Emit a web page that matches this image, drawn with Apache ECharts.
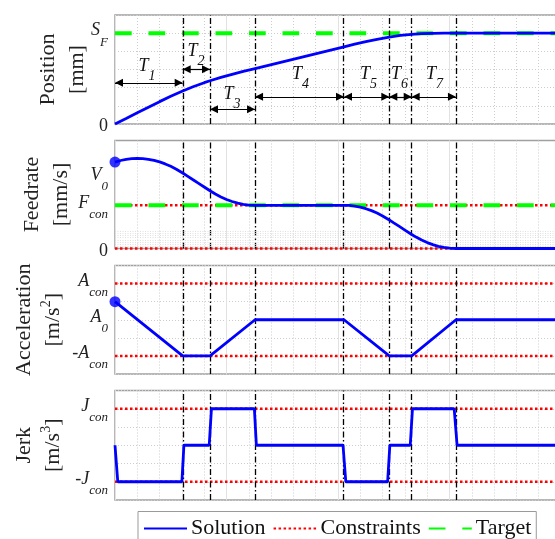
<!DOCTYPE html>
<html><head><meta charset="utf-8">
<script src="https://cdn.jsdelivr.net/npm/echarts@6/dist/echarts.min.js"></script>
<style>html,body{margin:0;padding:0;background:#fff}#c{width:555px;height:539px}</style>
</head><body><div id="c"></div><script>
// ---------- data (normalized units) ----------
const phaseBounds = [0, 0.607, 0.852, 1.256, 2.054, 2.46, 2.661, 3.058];
const phaseNames = ['1', '2', '3', '4', '5', '6', '7'];
const arrowLevels = [2.27, 3.01, 0.81, 1.5, 1.5, 1.5, 1.5];
const labelPosT = [0.255, 0.696, 1.018, 1.632, 2.242, 2.52, 2.834];
const labelPosY = [3.19, 4.02, 1.65, 2.75, 2.75, 2.75, 2.75];

const tPos = [0, 0.1, 0.2, 0.3, 0.4, 0.5, 0.607, 0.7, 0.8, 0.852, 0.95, 1.05, 1.15, 1.256, 2.054, 2.15, 2.25, 2.35, 2.46, 2.56, 2.661, 2.75, 2.85, 2.95, 3.058, 4];
const posVals = [0, 0.304, 0.615, 0.926, 1.231, 1.524, 1.816, 2.048, 2.274, 2.381, 2.566, 2.736, 2.894, 3.054, 4.248, 4.391, 4.534, 4.664, 4.787, 4.873, 4.935, 4.970, 4.991, 4.999, 5, 5];

const tFeed = [0, 0.05, 0.1, 0.15, 0.2, 0.25, 0.3, 0.35, 0.4, 0.45, 0.5, 0.55, 0.607, 0.65, 0.7, 0.75, 0.8, 0.852, 0.9, 0.95, 1.0, 1.05, 1.1, 1.15, 1.2, 1.256, 2.054, 2.1, 2.15, 2.2, 2.25, 2.3, 2.35, 2.4, 2.46, 2.5, 2.55, 2.6, 2.661, 2.7, 2.75, 2.8, 2.85, 2.9, 2.95, 3.0, 3.058, 4];
const feedVals = [2.000, 2.037, 2.063, 2.079, 2.085, 2.080, 2.065, 2.040, 2.004, 1.958, 1.902, 1.835, 1.747, 1.675, 1.591, 1.508, 1.424, 1.337, 1.262, 1.194, 1.135, 1.088, 1.050, 1.023, 1.006, 1.000, 1.000, 0.996, 0.981, 0.956, 0.921, 0.876, 0.820, 0.754, 0.661, 0.594, 0.511, 0.427, 0.325, 0.264, 0.196, 0.137, 0.089, 0.051, 0.024, 0.007, 0, 0];

const tAcc = [0, 0.607, 0.852, 1.256, 2.054, 2.46, 2.661, 3.058, 4];
const accVals = [1, -2, -2, 0, 0, -2, -2, 0, 0];

const tJerk = [0, 0.025, 0.6, 0.618, 0.845, 0.865, 1.25, 1.268, 2.045, 2.07, 2.445, 2.465, 2.648, 2.668, 3.042, 3.068, 4];
const jerkVals = [0, -2, -2, 0, 0, 2, 2, 0, 0, -2, -2, 0, 0, 2, 2, 0, 0];

const V0 = 2.0, A0 = 1.0;
const targetPos = 5, targetFeed = 1;
const feedConstraints = [1, 0];
const accConstraints = [2, -2];
const jerkConstraints = [2, -2];
const feedMinorGrid = [0.05, 0.1, 0.15, 0.2, 0.25, 0.3, 0.35, 0.4];

const posTickValues = [0, 5];
const posTickLabels = ['{n|0}', '{m|S}{s|F}'];
const feedTickValues = [0, 1, 1.64];
const feedTickLabels = ['{n|0}', '{m|F}{s|con}', '{m|V}{s|0}'];
const accTickValues = [-2, 0, 2];
const accTickLabels = ['{m|-A}{s|con}', '{m|A}{s|0}', '{m|A}{s|con}'];
const jerkTickValues = [-2, 2];
const jerkTickLabels = ['{m|-J}{s|con}', '{m|J}{s|con}'];

// ---------- styling ----------
const FF = 'Liberation Serif';
const BLUE = '#0000ff', RED = '#ff0000', GREEN = '#00ff00';
const zip = (a, b) => a.map((x, i) => [x, b[i]]);
const tickRich = {
  n: {fontFamily: FF, fontSize: 18, color: '#222', lineHeight: 18, verticalAlign: 'top', padding: [5, 0, 0, 0]},
  m: {fontFamily: FF, fontSize: 18, fontStyle: 'italic', color: '#222', lineHeight: 18, verticalAlign: 'top'},
  s: {fontFamily: FF, fontSize: 13, fontStyle: 'italic', color: '#222', lineHeight: 13, verticalAlign: 'top', padding: [14, 0, 0, 0]}
};
const nameStyle = {fontFamily: FF, fontSize: 22, color: '#222', lineHeight: 29,
  rich: {sup: {fontFamily: FF, fontSize: 14, color: '#222', lineHeight: 14, verticalAlign: 'top'}}};

const grids = [
  {left: 115, width: 446, top: 15, height: 109},
  {left: 115, width: 446, top: 140.5, height: 108},
  {left: 115, width: 446, top: 265.5, height: 108.5},
  {left: 115, width: 446, top: 390.5, height: 109.5}
].map(g => Object.assign(g, {show: true, borderColor: '#a0a0a0', borderWidth: 1.5, containLabel: false, outerBoundsMode: 'none'}));

const xAxes = [0, 1, 2, 3].map(i => ({
  type: 'value', gridIndex: i, min: 0, max: 4, interval: 1,
  axisLabel: {show: false}, axisLine: {show: false},
  axisTick: {show: false},
  splitLine: {show: true, lineStyle: {color: '#e2e2e2', width: 1}},
  minorTick: {show: false, splitNumber: 5},
  minorSplitLine: {show: true, lineStyle: {color: '#cdcdcd', width: 1, type: [1, 2]}}
}));

function yAxis(i, min, max, interval, vals, labels, name, gap, split) {
  return {
    type: 'value', gridIndex: i, min: min, max: max, interval: interval,
    axisLine: {show: false}, axisTick: {show: false},
    splitLine: {show: split, lineStyle: {color: '#cdcdcd', width: 1, type: [1, 2]}},
    axisLabel: {
      interval: 0, margin: 7, hideOverlap: false, padding: [0, 0, 5, 0],
      formatter: v => { const k = vals.findIndex(x => Math.abs(x - v) < 0.005); return k < 0 ? '' : labels[k]; },
      rich: tickRich
    },
    name: name, nameLocation: 'middle', nameRotate: 90, nameGap: gap, nameMoveOverlap: false,
    nameTextStyle: nameStyle
  };
}
const yAxes = [
  yAxis(0, 0, 6, 1, posTickValues, posTickLabels, 'Position\n[mm]', 23.5, true),
  yAxis(1, 0, 2.5, 0.02, feedTickValues, feedTickLabels, 'Feedrate\n[mm/s]', 39.5, false),
  yAxis(2, -3, 3, 1, accTickValues, accTickLabels, 'Acceleration\n[m/s{sup|2}]', 47, true),
  yAxis(3, -3, 3, 1, jerkTickValues, jerkTickLabels, 'Jerk\n[m/s{sup|3}]', 47, true)
];

const series = [];
const hLine = (i, name, y, style, z) => ({
  type: 'line', name: name, xAxisIndex: i, yAxisIndex: i, symbol: 'none', clip: false, z: z,
  data: [[0, y], [4, y]], lineStyle: style, itemStyle: {color: style.color}, silent: true
});
const redStyle = {color: RED, width: 2.5, type: [2.5, 2.5]};
const greenStyle = {color: GREEN, width: 4, type: [16.7, 16.8]};
const blueStyle = {color: BLUE, width: 2.8};

// phase boundary lines on every subplot
[0, 1, 2, 3].forEach(i => {
  series.push({
    type: 'line', name: 'phase' + i, xAxisIndex: i, yAxisIndex: i, data: [], z: 3,
    markLine: {silent: true, symbol: 'none', animation: false, label: {show: false},
      lineStyle: {color: '#000', width: 1.3, type: [6, 2.5, 1.5, 2.5]},
      data: phaseBounds.slice(1).map(b => ({xAxis: b}))}
  });
});
// faint minor grid band in feedrate
series.push({
  type: 'line', name: 'fgrid', xAxisIndex: 1, yAxisIndex: 1, data: [], z: 1,
  markLine: {silent: true, symbol: 'none', animation: false, label: {show: false},
    lineStyle: {color: '#d8d8d8', width: 0.8, type: [1, 1.5]},
    data: feedMinorGrid.map(v => ({yAxis: v}))}
});
// arrows and T labels
series.push({
  type: 'line', name: 'arrows', xAxisIndex: 0, yAxisIndex: 0, data: [], z: 4,
  itemStyle: {color: '#000'},
  markLine: {silent: true, animation: false, symbol: ['triangle', 'triangle'],
    symbolSize: [8, 8], symbolOffset: [[0, 4], [0, 4]],
    itemStyle: {color: '#000'},
    label: {show: false}, lineStyle: {color: '#000', width: 1.2, type: 'solid'},
    data: phaseNames.map((n, k) => [{coord: [phaseBounds[k], arrowLevels[k]]}, {coord: [phaseBounds[k + 1], arrowLevels[k]]}])},
  markPoint: {silent: true, animation: false, symbol: 'circle', symbolSize: 0,
    label: {show: true, position: 'inside', offset: [3.5, 0], color: '#000',
      formatter: p => '{mt|T}{st|' + p.name + '}',
      rich: {
        mt: {fontFamily: FF, fontSize: 18, fontStyle: 'italic', color: '#111', lineHeight: 18, verticalAlign: 'top'},
        st: {fontFamily: FF, fontSize: 14, fontStyle: 'italic', color: '#111', lineHeight: 14, verticalAlign: 'top', padding: [12, 0, 0, 0]}
      }},
    data: phaseNames.map((n, k) => ({name: n, coord: [labelPosT[k], labelPosY[k]]}))}
});

// constraints
feedConstraints.forEach(v => series.push(hLine(1, 'Constraints', v, redStyle, 2)));
accConstraints.forEach(v => series.push(hLine(2, 'Constraints', v, redStyle, 2)));
jerkConstraints.forEach(v => series.push(hLine(3, 'Constraints', v, redStyle, 2)));
// targets
series.push(hLine(0, 'Target', targetPos, greenStyle, 2));
series.push(hLine(1, 'Target', targetFeed, greenStyle, 2));
// solution
[[tPos, posVals], [tFeed, feedVals], [tAcc, accVals], [tJerk, jerkVals]].forEach((d, i) => {
  series.push({type: 'line', name: 'Solution', xAxisIndex: i, yAxisIndex: i, symbol: 'none', clip: false, z: 5,
    data: zip(d[0], d[1]), lineStyle: blueStyle, itemStyle: {color: BLUE}, silent: true});
});
series.push({type: 'scatter', name: 'v0dot', xAxisIndex: 1, yAxisIndex: 1, data: [[0, V0]], symbolSize: 11, clip: false, z: 6, itemStyle: {color: BLUE}});
series.push({type: 'scatter', name: 'a0dot', xAxisIndex: 2, yAxisIndex: 2, data: [[0, A0]], symbolSize: 11, clip: false, z: 6, itemStyle: {color: BLUE}});

const chart = echarts.init(document.getElementById('c'), null, {renderer: 'canvas'});
chart.setOption({
  backgroundColor: '#fff',
  animation: false,
  grid: grids, xAxis: xAxes, yAxis: yAxes,
  legend: {
    data: [{name: 'Solution', lineStyle: {width: 2}}, {name: 'Constraints'}, {name: 'Target'}],
    left: 138, top: 511.5, orient: 'horizontal', itemWidth: 43, itemHeight: 14, itemGap: 7,
    padding: [6, 5, 3, 5], borderColor: '#9a9a9a', borderWidth: 1, selectedMode: false,
    itemStyle: {opacity: 0},
    textStyle: {fontFamily: FF, fontSize: 22, color: '#111', padding: [0, 0, 0, -1]}
  },
  series: series
});
</script></body></html>
